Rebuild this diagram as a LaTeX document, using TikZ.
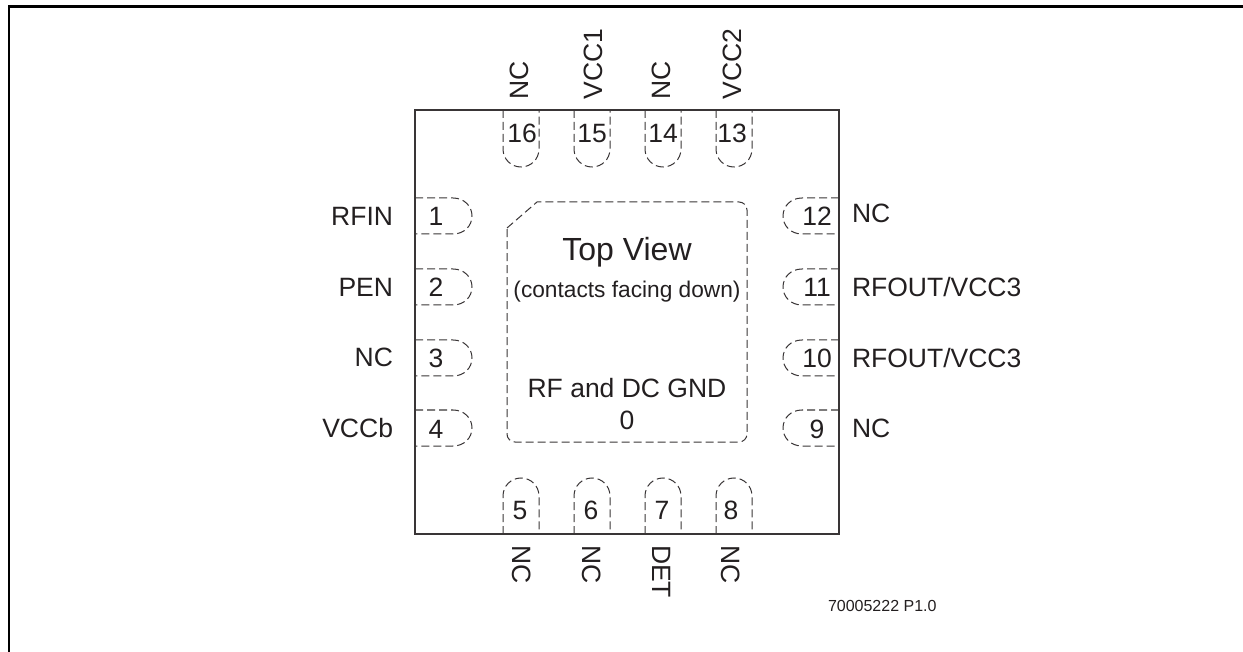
\documentclass[tikz,border=0pt]{standalone}
\usepackage{fontspec}
\setmainfont{Liberation Sans}
\definecolor{ink}{HTML}{231F20}
\newcommand{\fs}[1]{\fontsize{#1}{#1}\selectfont}
\tikzset{
  frameline/.style={draw=black,line width=2.4pt},
  pkgline/.style={draw=ink!90,line width=1.5pt},
  padline/.style={draw=ink!90,line width=1pt,dash pattern=on 8pt off 4pt},
  lbl/.style={inner sep=0pt,outer sep=0pt,text=ink,font=\fs{26.5}},
  big/.style={inner sep=0pt,outer sep=0pt,text=ink,font=\fs{32}},
  sub/.style={inner sep=0pt,outer sep=0pt,text=ink,font=\fs{22.7}},
  tiny/.style={inner sep=0pt,outer sep=0pt,text=ink,font=\fs{16}}
}
\begin{document}
\begin{tikzpicture}[x=1pt,y=-1pt]
\useasboundingbox (0,0) rectangle (1243,652);
% outer frame (only top and left edges are visible)
\draw[frameline] (9,652) -- (9,6.5) -- (1243,6.5);
% package
\draw[pkgline] (415,110) rectangle (839,534);
% centre pad
\draw[padline] (507,228) -- (537,202) [rounded corners=8pt] -- (747,202) -- (747,442) -- (507,442) [sharp corners] -- cycle;
% top pins
\foreach \a in {503,574,645,716}{
  \draw[padline] (\a,110) -- (\a,149) .. controls (\a,159) and (\a+8,167) .. (\a+18,167)
     .. controls (\a+28,167) and (\a+36,159) .. (\a+36,149) -- (\a+36,110);
}
% bottom pins
\foreach \a in {503,574,645,716}{
  \draw[padline] (\a,534) -- (\a,496) .. controls (\a,486) and (\a+8,478) .. (\a+18,478)
     .. controls (\a+28,478) and (\a+36,486) .. (\a+36,496) -- (\a+36,534);
}
% left pins
\foreach \b in {198,269,340,410}{
  \draw[padline] (415,\b) -- (453,\b) .. controls (464,\b) and (472,\b+8) .. (472,\b+18)
     .. controls (472,\b+28) and (464,\b+36) .. (453,\b+36) -- (415,\b+36);
}
% right pins
\foreach \b in {198,269,340,410}{
  \draw[padline] (839,\b) -- (802,\b) .. controls (791,\b) and (783,\b+8) .. (783,\b+18)
     .. controls (783,\b+28) and (791,\b+36) .. (802,\b+36) -- (839,\b+36);
}
% pin numbers
\node[lbl,anchor=base] (n1) at (436,226) {1};
\node[lbl,anchor=base] (n2) at (436,297) {2};
\node[lbl,anchor=base] (n3) at (436,368) {3};
\node[lbl,anchor=base] (n4) at (436,438) {4};
\node[lbl,anchor=base] (n5) at (520,519) {5};
\node[lbl,anchor=base] (n6) at (591,519) {6};
\node[lbl,anchor=base] (n7) at (662,519) {7};
\node[lbl,anchor=base] (n8) at (731,519) {8};
\node[lbl,anchor=base] (n9) at (817,438) {9};
\node[lbl,anchor=base] (n10) at (817,368) {10};
\node[lbl,anchor=base] (n11) at (817,297) {11};
\node[lbl,anchor=base] (n12) at (817,226) {12};
\node[lbl,anchor=base] (n13) at (732,143) {13};
\node[lbl,anchor=base] (n14) at (663,143) {14};
\node[lbl,anchor=base] (n15) at (592,143) {15};
\node[lbl,anchor=base] (n16) at (522,143) {16};
% left labels
\node[lbl,anchor=base east] (l1) at (393,226) {RFIN};
\node[lbl,anchor=base east] (l2) at (393,297) {PEN};
\node[lbl,anchor=base east] (l3) at (393,367) {NC};
\node[lbl,anchor=base east] (l4) at (393,437) {VCCb};
% right labels
\node[lbl,anchor=base west] (r12) at (852,223) {NC};
\node[lbl,anchor=base west] (r11) at (852,297) {RFOUT/VCC3};
\node[lbl,anchor=base west] (r10) at (852,368) {RFOUT/VCC3};
\node[lbl,anchor=base west] (r9) at (852,437) {NC};
% top labels
\node[lbl,rotate=90,anchor=base west] (t16) at (528,99.5) {NC};
\node[lbl,rotate=90,anchor=base west] (t15) at (602.5,99.5) {VCC1};
\node[lbl,rotate=90,anchor=base west] (t14) at (670.5,99.5) {NC};
\node[lbl,rotate=90,anchor=base west] (t13) at (741,99.5) {VCC2};
% bottom labels
\node[lbl,rotate=-90,anchor=base west] (b5) at (512,545) {NC};
\node[lbl,rotate=-90,anchor=base west] (b6) at (582,545) {NC};
\node[lbl,rotate=-90,anchor=base west] (b7) at (652,545) {DET};
\node[lbl,rotate=-90,anchor=base west] (b8) at (721,545) {NC};
% centre text
\node[big,anchor=base] (top) at (627,261) {Top View};
\node[sub,anchor=base] (con) at (627,298) {(contacts facing down)};
\node[lbl,anchor=base] (gnd) at (627,398) {RF and DC GND};
\node[lbl,anchor=base] (zero) at (627,429) {0};
\node[tiny,anchor=base west] (ref) at (828,611) {70005222 P1.0};
\end{tikzpicture}
\end{document}
